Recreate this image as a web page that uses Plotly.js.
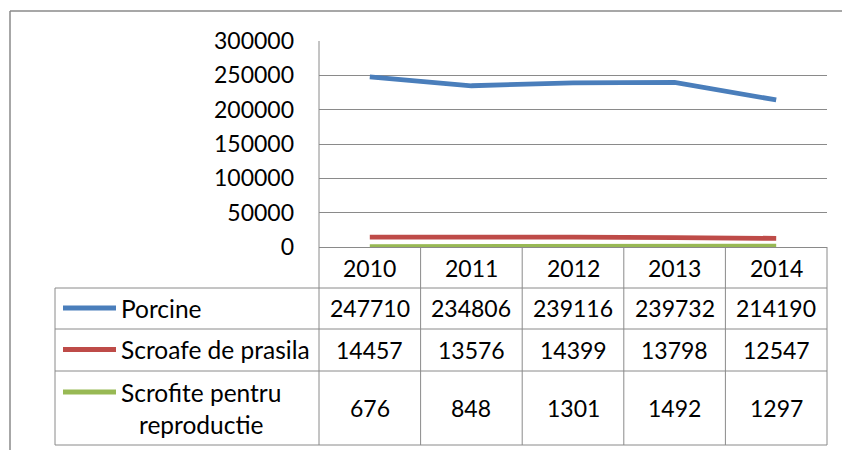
<!DOCTYPE html>
<html>
<head>
<meta charset="utf-8">
<script src="https://cdn.plot.ly/plotly-3.0.1.min.js"></script>
<style>html,body{margin:0;padding:0;background:#fff}#chart{width:842px;height:450px}</style>
</head>
<body>
<div id="chart"></div>
<script>
// ---- data ----
var years = ['2010', '2011', '2012', '2013', '2014'];
var seriesNames = ['Porcine', 'Scroafe de prasila', 'Scrofite pentru reproductie'];
var tableLabels = ['Porcine', 'Scroafe de prasila', 'Scrofite pentru<br>reproductie'];
var porcine = [247710, 234806, 239116, 239732, 214190];
var scroafe = [14457, 13576, 14399, 13798, 12547];
var scrofite = [676, 848, 1301, 1492, 1297];
var yTicks = [0, 50000, 100000, 150000, 200000, 250000, 300000];

var seriesValues = [porcine, scroafe, scrofite];
var colors = ['#4A7EBB', '#BE4B48', '#98B954'];

// ---- layout geometry (pixels) ----
var W = 842, H = 450;
var L = 319, R = 827, T = 41, B = 247;
function px(x) { return (x - L) / (R - L); }
function py(y) { return (B - y) / (B - T); }
var gridCol = '#8a8a8a';
var FONT = 'Lato, "Open Sans", sans-serif';

var traces = seriesValues.map(function (vals, i) {
  return {
    type: 'scatter', mode: 'lines', name: seriesNames[i],
    x: years.map(function (d, j) { return j; }), y: vals,
    line: { color: colors[i], width: 4.8 },
    hoverinfo: 'none', cliponaxis: false
  };
});

var shapes = [];
function hline(x0, x1, y, c, w) {
  shapes.push({ type: 'line', xref: 'paper', yref: 'paper', x0: px(x0), x1: px(x1), y0: py(y), y1: py(y), line: { color: c || gridCol, width: w || 1 }, layer: 'below' });
}
function vline(x, y0, y1, c, w) {
  shapes.push({ type: 'line', xref: 'paper', yref: 'paper', x0: px(x), x1: px(x), y0: py(y0), y1: py(y1), line: { color: c || gridCol, width: w || 1 }, layer: 'below' });
}
// outer frame (chart area border)
hline(10, 842, 11, '#8a8a8a', 1.5);
vline(10, 11, 450, '#8a8a8a', 1.5);
// left axis line, continuing into the table
vline(L, T, 445);
// data table
var rowLines = [288, 329, 371, 445];
rowLines.forEach(function (y) { hline(55, R, y); });
vline(55, 288, 445);
var colW = (R - L) / years.length;
for (var c = 1; c <= years.length; c++) vline(L + c * colW, B, 445);

var annotations = [];
var rowCenters = [308, 349.5, 408];
var keyY = [308, 349.5, 392];
function ann(text, x, y, xanchor, align, size) {
  annotations.push({ text: text, xref: 'paper', yref: 'paper', x: px(x), y: py(y), xanchor: xanchor || 'center', yanchor: 'middle', align: align || 'center', showarrow: false, font: { family: FONT, size: size || 23, color: '#000' } });
}
years.forEach(function (yr, j) { ann(yr, L + (j + 0.5) * colW, 268); });
seriesValues.forEach(function (vals, i) {
  vals.forEach(function (v, j) { ann(String(v), L + (j + 0.5) * colW, rowCenters[i]); });
  ann(tableLabels[i], 119, i === 2 ? 408 : rowCenters[i], 'left', 'center', 24.5);
  shapes.push({ type: 'line', xref: 'paper', yref: 'paper', x0: px(63), x1: px(116), y0: py(keyY[i]), y1: py(keyY[i]), line: { color: colors[i], width: 4.8 } });
});

var layout = {
  width: W, height: H,
  margin: { l: L, r: W - R, t: T, b: H - B, pad: 0 },
  paper_bgcolor: '#fff', plot_bgcolor: '#fff',
  showlegend: false,
  font: { family: FONT, size: 23, color: '#000' },
  xaxis: { range: [-0.5, 4.5], showgrid: false, zeroline: false, showline: false, showticklabels: false, ticks: '', fixedrange: true },
  yaxis: {
    range: [0, 300000], tickvals: yTicks, ticktext: yTicks.map(String),
    showgrid: true, gridcolor: gridCol, gridwidth: 1,
    zeroline: true, zerolinecolor: gridCol, zerolinewidth: 1,
    showline: false, ticks: '', ticklabelstandoff: 24,
    tickfont: { family: FONT, size: 23, color: '#000' }, fixedrange: true
  },
  shapes: shapes, annotations: annotations
};

Plotly.newPlot('chart', traces, layout, { staticPlot: true, displayModeBar: false });
</script>
</body>
</html>
